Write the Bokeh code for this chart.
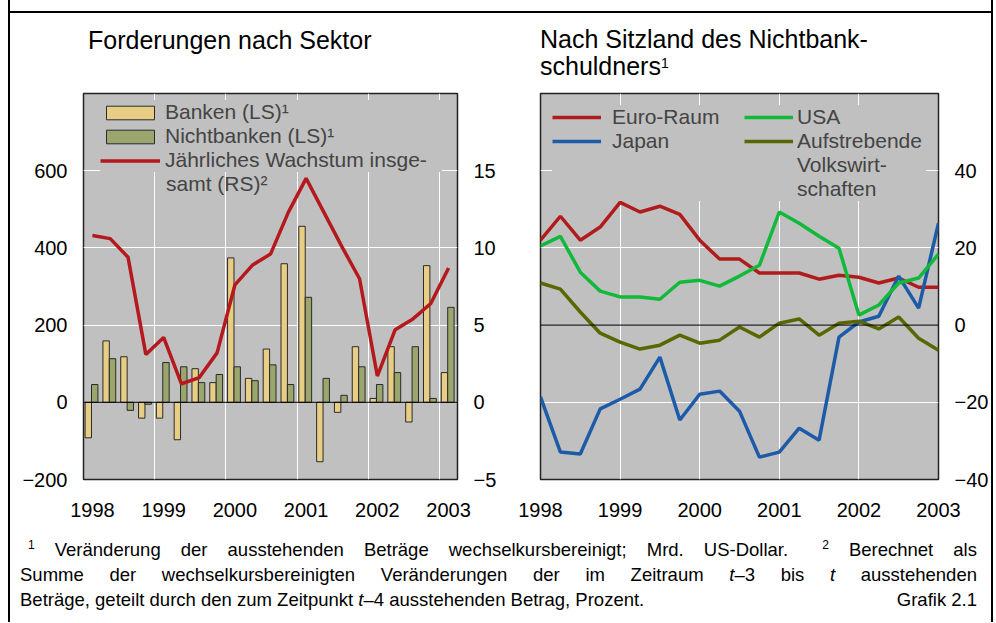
import numpy as np
from bokeh.plotting import figure
from bokeh.models import (Range1d, LinearAxis, FixedTicker, Span, Legend, LegendItem,
                          ColumnDataSource, Div)
from bokeh.layouts import row, column
from bokeh.embed import file_html
from bokeh.resources import INLINE

# ---------------- data ----------------
# left panel: quarterly, 1998 Q1 .. 2003 Q1
quarters = list(range(21))
year_labels = ["1998", "1999", "2000", "2001", "2002", "2003"]
banken = [-92, 159, 118, -41, -41, -97, 87, 51, 374, 62, 138,
          359, 456, -154, -26, 144, 10, 144, -51, 354, 77]
nichtbanken = [46, 113, -21, -5, 103, 92, 51, 72, 92, 56, 97,
               46, 272, 62, 18, 92, 46, 77, 144, 10, 246]
wachstum = [10.8, 10.6, 9.4, 3.1, 4.2, 1.2, 1.6, 3.2, 7.6, 8.9, 9.6,
            12.3, 14.5, 12.3, 10.1, 8.0, 1.7, 4.7, 5.4, 6.4, 8.7]

# right panel: quarterly, 1998 Q1 .. 2003 Q1
dates = [1998 + q / 4 for q in quarters]
euro_raum = [22.0, 28.2, 22.0, 25.4, 31.8, 29.3, 30.8, 28.7, 22.0, 17.1, 17.1,
             13.5, 13.5, 13.5, 11.9, 12.9, 12.4, 10.9, 12.2, 9.8, 9.8]
usa = [20.5, 23.0, 13.7, 8.8, 7.3, 7.3, 6.7, 11.1, 11.6, 10.1, 12.7,
       15.5, 29.3, 26.4, 23.0, 19.9, 2.6, 5.2, 10.9, 12.2, 18.4]
japan = [-18.6, -32.9, -33.4, -21.7, -19.2, -16.6, -8.3, -24.6, -17.9, -17.1, -22.3,
         -34.2, -32.9, -26.7, -29.8, -3.1, 0.8, 2.3, 12.7, 4.4, 26.4]
aufstrebende = [10.9, 9.3, 3.4, -2.1, -4.4, -6.2, -5.2, -2.6, -4.7, -3.9, -0.5,
                -3.1, 0.5, 1.6, -2.6, 0.5, 1.0, -1.0, 2.1, -3.4, -6.5]

title_left = "Forderungen nach Sektor"
title_right = ["Nach Sitzland des Nichtbank-", "schuldners"]

FONT = "Liberation Sans"
BG = "#C0C0C0"


def style_axis(ax, standoff=16):
    ax.axis_line_color = None
    ax.major_tick_line_color = None
    ax.minor_tick_line_color = None
    ax.major_tick_out = 0
    ax.major_tick_in = 0
    ax.major_label_text_font = FONT
    ax.major_label_text_font_size = "20px"
    ax.major_label_text_color = "black"
    ax.major_label_standoff = standoff


FIG_H = 447

# ---------------- left panel ----------------
src = ColumnDataSource(dict(
    xc=[q + 0.5 for q in quarters],
    xb=[q + 0.27 for q in quarters],
    xn=[q + 0.63 for q in quarters],
    banken=banken, nichtbanken=nichtbanken, wachstum=wachstum))

p1 = figure(width=495, height=FIG_H, x_range=Range1d(0, 21), y_range=Range1d(-200, 800),
            output_backend="svg", toolbar_location=None,
            min_border_left=73, min_border_right=48, min_border_top=5, min_border_bottom=56,
            background_fill_color=BG, border_fill_color="white",
            outline_line_color="#222222", outline_line_width=1.5)
p1.extra_y_ranges = {"rs": Range1d(-5, 20)}

p1.xgrid.ticker = FixedTicker(ticks=[4, 8, 12, 16, 20])
p1.ygrid.ticker = FixedTicker(ticks=[200, 400, 600])
p1.grid.grid_line_color = "white"
p1.grid.grid_line_width = 1

r_b = p1.vbar(x="xb", top="banken", width=0.36, source=src,
              fill_color="#E8CE84", line_color="#2a2a2a", line_width=1)
r_n = p1.vbar(x="xn", top="nichtbanken", width=0.36, source=src,
              fill_color="#9AA66E", line_color="#2a2a2a", line_width=1)
p1.add_layout(Span(location=0, dimension="width", line_color="black", line_width=1))
r_w = p1.line(x="xc", y="wachstum", source=src, y_range_name="rs",
              line_color="#B5191D", line_width=3.5)
blank1 = p1.line(x=[], y=[], line_alpha=0)

p1.yaxis.ticker = FixedTicker(ticks=[-200, 0, 200, 400, 600])
ax_rs = LinearAxis(y_range_name="rs", ticker=FixedTicker(ticks=[-5, 0, 5, 10, 15]))
p1.add_layout(ax_rs, "right")
p1.xaxis.ticker = FixedTicker(ticks=[q + 0.5 for q in quarters[::4]])
p1.xaxis.major_label_overrides = {q + 0.5: y for q, y in zip(quarters[::4], year_labels)}
for ax in p1.yaxis:
    style_axis(ax, 16)
style_axis(p1.xaxis[0], 23)

leg1 = Legend(items=[
    LegendItem(label="Banken (LS)¹", renderers=[r_b]),
    LegendItem(label="Nichtbanken (LS)¹", renderers=[r_n]),
    LegendItem(label="Jährliches Wachstum insge-", renderers=[r_w]),
], location=(17, 307), margin=0, padding=0, spacing=0,
    glyph_width=60, glyph_height=17, label_height=21, label_width=277,
    label_standoff=5, label_text_font=FONT, label_text_font_size="21px",
    label_text_line_height=1.0,
    background_fill_color=BG, background_fill_alpha=1, border_line_color=None)
leg1b = Legend(items=[
    LegendItem(label="samt (RS)²", renderers=[blank1]),
], location=(81, 283), margin=0, padding=0, spacing=0,
    glyph_width=1, glyph_height=17, label_height=21,
    label_standoff=1, label_text_font=FONT, label_text_font_size="21px",
    label_text_line_height=1.0,
    background_fill_alpha=0, border_line_color=None)
p1.add_layout(leg1)
p1.add_layout(leg1b)

# ---------------- right panel ----------------
src2 = ColumnDataSource(dict(d=dates, euro=euro_raum, usa=usa, japan=japan, em=aufstrebende))

p2 = figure(width=486, height=FIG_H, x_range=Range1d(1998, 2003), y_range=Range1d(-40, 60),
            y_axis_location="right", output_backend="svg", toolbar_location=None,
            min_border_left=35, min_border_right=50, min_border_top=5, min_border_bottom=56,
            background_fill_color=BG, border_fill_color="white",
            outline_line_color="#222222", outline_line_width=1.5)

p2.xgrid.ticker = FixedTicker(ticks=[1999, 2000, 2001, 2002])
p2.ygrid.ticker = FixedTicker(ticks=[-20, 20, 40])
p2.grid.grid_line_color = "white"
p2.grid.grid_line_width = 1
p2.add_layout(Span(location=0, dimension="width", line_color="black", line_width=1))

r_e = p2.line(x="d", y="euro", source=src2, line_color="#B01C1C", line_width=3.5)
r_j = p2.line(x="d", y="japan", source=src2, line_color="#1D5BA8", line_width=3.5)
r_u = p2.line(x="d", y="usa", source=src2, line_color="#10B93A", line_width=3.5)
r_m = p2.line(x="d", y="em", source=src2, line_color="#5A6700", line_width=3.5)
blank2 = p2.line(x=[], y=[], line_alpha=0)

p2.yaxis.ticker = FixedTicker(ticks=[-40, -20, 0, 20, 40])
p2.xaxis.ticker = FixedTicker(ticks=[1998, 1999, 2000, 2001, 2002, 2003])
p2.xaxis.major_label_overrides = {1998 + i: y for i, y in enumerate(year_labels)}
style_axis(p2.yaxis[0], 16)
style_axis(p2.xaxis[0], 23)

leg_kw = dict(margin=12, padding=0, spacing=0, glyph_width=49, glyph_height=20,
              label_height=24, label_text_font=FONT, label_text_font_size="21px",
              label_text_line_height=1.1,
              background_fill_color=BG, background_fill_alpha=1, border_line_color=None)
leg_a = Legend(items=[
    LegendItem(label="Euro-Raum", renderers=[r_e]),
    LegendItem(label="Japan", renderers=[r_j]),
    LegendItem(label="\u00a0", renderers=[blank2]),
    LegendItem(label="\u00a0\u00a0", renderers=[blank2]),
], location="top_left", label_width=135, label_standoff=11, **leg_kw)
leg_b = Legend(items=[
    LegendItem(label="USA", renderers=[r_u]),
    LegendItem(label="Aufstrebende", renderers=[r_m]),
    LegendItem(label="Volkswirt-", renderers=[blank2]),
    LegendItem(label="schaften", renderers=[blank2]),
], location="top_right", label_width=129, label_standoff=4, **leg_kw)
p2.add_layout(leg_a)
p2.add_layout(leg_b)

# ---------------- titles ----------------
title_html = (
    "<div style=\"position:relative;width:981px;height:75px;font-family:'Liberation Sans';"
    "font-size:25px;line-height:27px;color:black;\">"
    "<div style=\"position:absolute;left:78px;top:14px;white-space:nowrap;\">%s</div>"
    "<div style=\"position:absolute;left:530px;top:13px;white-space:nowrap;\">%s<br>%s"
    "<span style=\"font-size:14px;position:relative;top:-7px;\">1</span></div>"
    "</div>" % (title_left, title_right[0], title_right[1]))

# ---------------- footnote ----------------
SUP = "<span style=\"font-size:12px;position:relative;top:-7px;\">{}</span>"
line1 = [SUP.format("1"), "Veränderung", "der", "ausstehenden", "Beträge",
         "wechselkursbereinigt;", "Mrd.", "US-Dollar.",
         "<span style=\"padding-left:14px\"></span>" + SUP.format("2"), "Berechnet", "als"]
line2 = ["Summe", "der", "wechselkursbereinigten", "Veränderungen", "der", "im",
         "Zeitraum", "<i>t</i>–3", "bis", "<i>t</i>", "ausstehenden"]
line3_left = "Beträge, geteilt durch den zum Zeitpunkt <i>t</i>–4 ausstehenden Betrag, Prozent."
line3_right = "Grafik 2.1"

lst = ("display:flex;justify-content:space-between;white-space:nowrap;"
       "height:25px;line-height:25px;box-sizing:border-box;")


def flex_line(words, width, extra=""):
    return "<div style=\"%swidth:%dpx;%s\">%s</div>" % (
        lst, width, extra, "".join("<span>%s</span>" % w for w in words))


foot_html = ("<div style=\"font-family:'Liberation Sans';font-size:18.5px;color:black;"
             "margin:2px 0 0 10px;width:957px;\">"
             + flex_line(line1, 957, "padding-left:8px;")
             + flex_line(line2, 957)
             + "<div style=\"%swidth:957px;\"><span style=\"white-space:pre\">%s</span><span>%s</span></div>"
             % (lst, line3_left, line3_right)
             + "</div>")

SIDE = "2px solid black"
top_strip = Div(text="", width=985, height=13, margin=0,
                styles={"border-left": SIDE, "border-right": SIDE, "border-bottom": SIDE,
                        "box-sizing": "border-box"})
titles = Div(text=title_html, width=985, height=75, margin=0,
             styles={"border-left": SIDE, "border-right": SIDE, "box-sizing": "border-box"})
vline_l = Div(text="", width=2, height=FIG_H, margin=0, styles={"background-color": "black"})
vline_r = Div(text="", width=2, height=FIG_H, margin=0, styles={"background-color": "black"})
foot = Div(text=foot_html, width=985, height=87, margin=0,
           styles={"border-left": SIDE, "border-right": SIDE, "box-sizing": "border-box"})

layout = column(top_strip, titles, row(vline_l, p1, p2, vline_r), foot, margin=(0, 0, 0, 8))

open("out.html", "w").write(file_html(layout, INLINE))
